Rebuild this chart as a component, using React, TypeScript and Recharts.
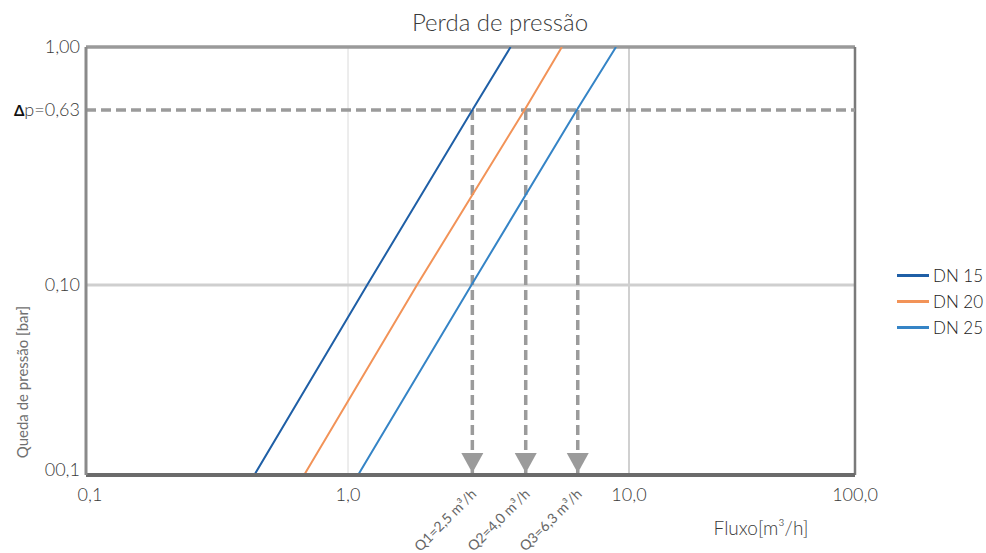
import React from 'react';
import { LineChart, Line, XAxis, YAxis, ReferenceLine, ReferenceDot } from 'recharts';

// axis ticks as printed on the sheet
const FLOW_TICKS = [0.1, 1, 10, 100];
const FLOW_TICK_LABELS = ['0,1', '1,0', '10,0', '100,0'];
const DROP_TICKS = [0.01, 0.1, 0.63, 1];
const DROP_TICK_LABELS = ['00,1', '0,10', 'p=0,63', '1,00'];

const DROP_LEVELS = [0.01, 0.1, 0.63, 1];
const DN15_FLOW = [0.439, 1.17, 2.77, 3.79];
const DN20_FLOW = [0.68, 1.76, 4.25, 5.77];
const DN25_FLOW = [1.086, 2.75, 6.52, 8.99];

const DP_REF = 0.63;
const Q_FLOW = [2.77, 4.29, 6.57];
const Q_LABELS = ['Q1=2,5 m³/h', 'Q2=4,0 m³/h', 'Q3=6,3 m³/h'];

const SERIES = [
  { name: 'DN 15', flow: DN15_FLOW, color: '#1f5fa6' },
  { name: 'DN 20', flow: DN20_FLOW, color: '#f29358' },
  { name: 'DN 25', flow: DN25_FLOW, color: '#3584c6' },
];

// the original sheet doesn't draw its decades evenly, so each step gets its own length
const FLOW_STEP_LEN = [262, 281, 226];
const DROP_STEP_LEN = [190, 175, 63];

function warp(v: number, anchors: number[], lens: number[]) {
  const l = Math.log10(v);
  let acc = 0;
  for (let i = 0; i < lens.length; i++) {
    const a = Math.log10(anchors[i]);
    const b = Math.log10(anchors[i + 1]);
    if (l <= b || i === lens.length - 1) return acc + ((l - a) / (b - a)) * lens[i];
    acc += lens[i];
  }
  return acc;
}
const fx = (v: number) => warp(v, FLOW_TICKS, FLOW_STEP_LEN);
const fy = (v: number) => warp(v, DROP_TICKS, DROP_STEP_LEN);

const FONT = "Lato, 'Open Sans', sans-serif";
const TEXT = '#3a3a3a';
const DASH = '#9b9b9b';

const XTick = (props: any) => {
  const { x, y, index } = props;
  return (
    <text x={x + (index === 0 ? 4 : 0)} y={y + 26} textAnchor="middle" fontSize={18} fontWeight={300} fill={TEXT} fontFamily={FONT}>
      {FLOW_TICK_LABELS[index]}
    </text>
  );
};

const YTick = (props: any) => {
  const { x, y, index } = props;
  const label = DROP_TICK_LABELS[index];
  const dy = index === 0 ? 1 : 6;
  return (
    <text x={x - 6} y={y + dy} textAnchor="end" fontSize={18} fontWeight={300} fill={TEXT} fontFamily={FONT}>
      {index === 2 && (
        <tspan fontWeight={700} fontSize={15} fill="#111">Δ</tspan>
      )}
      {label}
    </text>
  );
};

const QArrow = (label: string) => (props: any) => {
  const { cx, cy } = props;
  return (
    <g>
      <polygon points={`${cx - 11},${cy - 22} ${cx + 11},${cy - 22} ${cx},${cy - 2}`} fill={DASH} />
      <text
        x={cx + 5}
        y={cy + 20}
        textAnchor="end"
        fontSize={14}
        fill="#666"
        fontFamily={FONT}
        transform={`rotate(-45 ${cx + 5} ${cy + 20})`}
      >
        {label}
      </text>
    </g>
  );
};

export default function App() {
  return (
    <div style={{ position: 'absolute', left: 0, top: 0, width: 986, height: 553, background: '#fff', fontFamily: FONT, color: TEXT }}>
      <LineChart width={986} height={553} margin={{ top: 47, right: 131, left: 0, bottom: 0 }}>
        <XAxis
          type="number"
          dataKey="x"
          domain={[0, fx(100)]}
          ticks={FLOW_TICKS.map(fx)}
          interval={0}
          tick={<XTick />}
          tickLine={false}
          tickSize={0}
          tickMargin={0}
          height={78}
          axisLine={{ stroke: '#6b6b6b', strokeWidth: 4 }}
          allowDataOverflow
        />
        <YAxis
          type="number"
          dataKey="y"
          domain={[0, fy(1)]}
          ticks={DROP_TICKS.map(fy)}
          interval={0}
          tick={<YTick />}
          tickLine={false}
          tickSize={0}
          tickMargin={0}
          width={86}
          axisLine={{ stroke: '#8a8a8a', strokeWidth: 3 }}
          allowDataOverflow
        />
        <ReferenceLine x={fx(1)} stroke="#dadada" strokeWidth={1} />
        <ReferenceLine x={fx(10)} stroke="#d0d0d0" strokeWidth={2} />
        <ReferenceLine y={fy(0.1)} stroke="#cfcfcf" strokeWidth={3} />
        <ReferenceLine y={fy(1)} stroke="#9a9a9a" strokeWidth={3.5} />
        <ReferenceLine x={fx(100)} stroke="#7a7a7a" strokeWidth={2.5} />
        <ReferenceLine y={fy(DP_REF)} stroke={DASH} strokeWidth={3.5} strokeDasharray="10 5" />
        {Q_FLOW.map((q) => (
          <ReferenceLine
            key={'seg' + q}
            segment={[
              { x: fx(q), y: fy(DP_REF) },
              { x: fx(q), y: fy(0.01) },
            ]}
            stroke={DASH}
            strokeWidth={3.5}
            strokeDasharray="10 5"
          />
        ))}
        {SERIES.map((s) => (
          <Line
            key={s.name}
            name={s.name}
            data={DROP_LEVELS.map((p, i) => ({ x: fx(s.flow[i]), y: fy(p) }))}
            dataKey="y"
            type="linear"
            stroke={s.color}
            strokeWidth={2}
            dot={false}
            isAnimationActive={false}
          />
        ))}
        {Q_FLOW.map((q, i) => (
          <ReferenceDot key={'dot' + q} x={fx(q)} y={fy(0.01)} r={0} shape={QArrow(Q_LABELS[i])} />
        ))}
      </LineChart>

      <div style={{ position: 'absolute', left: 500, top: 10, transform: 'translateX(-50%)', fontSize: 24, fontWeight: 300, lineHeight: 1, whiteSpace: 'nowrap' }}>
        Perda de pressão
      </div>
      <div style={{ position: 'absolute', left: 22, top: 382, transform: 'translate(-50%, -50%) rotate(-90deg)', fontSize: 15, whiteSpace: 'nowrap', color: '#707070' }}>
        Queda de pressão [bar]
      </div>
      <div style={{ position: 'absolute', left: 761, top: 527, transform: 'translate(-50%, -50%)', fontSize: 19, fontWeight: 300, whiteSpace: 'nowrap' }}>
        Fluxo[m³/h]
      </div>
      <div style={{ position: 'absolute', left: 897, top: 262 }}>
        {SERIES.map((s) => (
          <div key={s.name} style={{ display: 'flex', alignItems: 'center', height: 26 }}>
            <div style={{ width: 32, height: 3, background: s.color }} />
            <span style={{ marginLeft: 4, fontSize: 17, fontWeight: 300, color: '#222' }}>{s.name}</span>
          </div>
        ))}
      </div>
    </div>
  );
}
